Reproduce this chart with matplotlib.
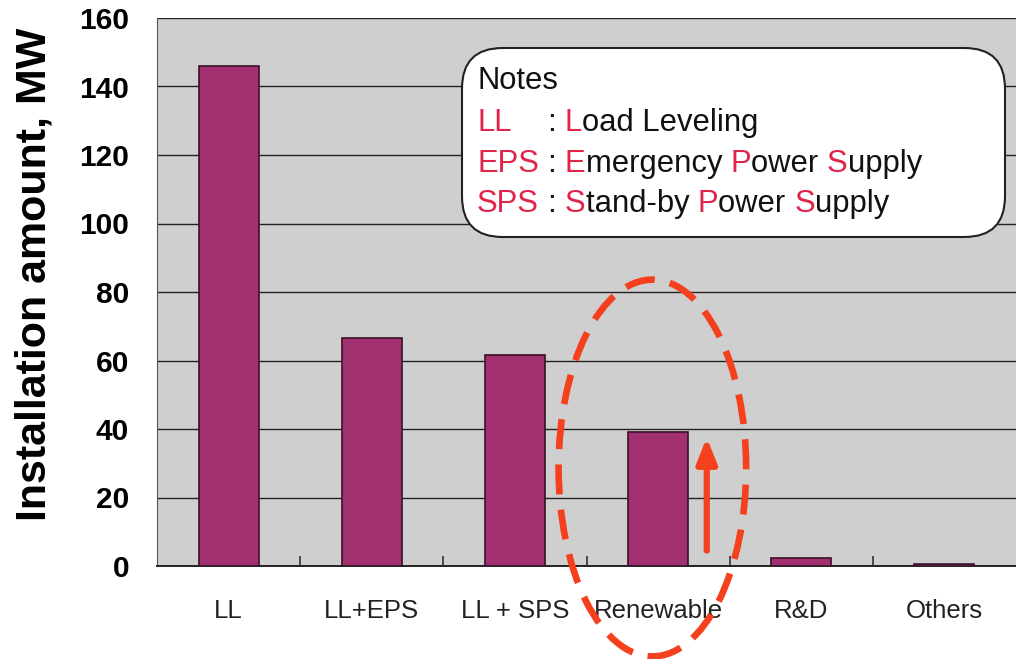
import matplotlib
matplotlib.use("Agg")
import matplotlib.pyplot as plt
from matplotlib.patches import Ellipse, FancyBboxPatch

categories = ["LL", "LL+EPS", "LL + SPS", "Renewable", "R&D", "Others"]
values = [146, 66.5, 61.5, 39, 2.2, 0.6]
yticks = [0, 20, 40, 60, 80, 100, 120, 140, 160]
ylabel = "Installation amount, MW"
notes_title = "Notes"
notes_lines = [
    [("LL", "r"), ("|", "k"), (": ", "k"), ("L", "r"), ("oad Leveling", "k")],
    [("EPS", "r"), (" ", "k"), ("|", "k"), (": ", "k"), ("E", "r"), ("mergency ", "k"), ("P", "r"), ("ower ", "k"), ("S", "r"), ("upply", "k")],
    [("SPS", "r"), (" ", "k"), ("|", "k"), (": ", "k"), ("S", "r"), ("tand-by ", "k"), ("P", "r"), ("ower ", "k"), ("S", "r"), ("upply", "k")],
]

plt.rcParams['font.family'] = ['Liberation Sans', 'DejaVu Sans']

fig = plt.figure(figsize=(10.16, 6.59), dpi=100)
ax = fig.add_axes([157/1016, 1-566/659, 1-157/1016, (566-18)/659])
ax.set_facecolor("#cfcfcf")

x = list(range(len(categories)))
ax.bar(x, values, width=0.42, color="#a0306f", edgecolor="#3a1028", linewidth=1.2, zorder=3)
ax.set_xlim(-0.5, len(categories) - 0.5)
ax.set_ylim(0, 160)
ax.set_yticks(yticks)
ax.set_yticklabels([str(v) for v in yticks], fontsize=21.5, fontweight="bold")
ax.tick_params(axis="y", length=0, pad=20)
ax.set_xticks(x)
ax.set_xticklabels(categories, fontsize=18.5, color="#222222")
ax.tick_params(axis="x", length=0, pad=24)
ax.set_xticks([i + 0.5 for i in x[:-1]], minor=True)
ax.tick_params(axis="x", which="minor", direction="in", length=7, width=1.2, color="#333333")
ax.yaxis.grid(True, color="#222222", linewidth=1.0, zorder=1)
ax.set_axisbelow(True)
for s in ["top", "right"]:
    ax.spines[s].set_visible(False)
ax.spines["left"].set_color("#555555")
ax.spines["bottom"].set_color("#222222")
ax.spines["bottom"].set_linewidth(1.4)
ax.set_ylabel(ylabel, fontsize=31, fontweight="bold")
ax.yaxis.set_label_coords(-0.119, 0.533)

# Dashed ellipse highlight
ell = Ellipse((2.96, 28.6), width=1.31, height=110, fill=False, edgecolor="#f5401e",
              linewidth=4.8, linestyle=(0, (4.5, 2.3)), clip_on=False, zorder=6)
ax.add_patch(ell)
# Arrow
ax.annotate("", xy=(3.34, 37.5), xytext=(3.34, 4.5),
            arrowprops=dict(arrowstyle="-|>,head_width=0.6,head_length=1.5", color="#f5401e",
                            linewidth=4.5, shrinkA=0, shrinkB=0), zorder=6)

# Notes box
box = FancyBboxPatch((462/1016, 1-237/659), (1005-462)/1016, (237-48)/659,
                     boxstyle="round,pad=0,rounding_size=0.04", transform=fig.transFigure,
                     facecolor="white", edgecolor="#222222", linewidth=1.5, zorder=10,
                     mutation_aspect=1016/659)
fig.add_artist(box)

red = "#e0244a"
fs = 22.3
fig.text(477/1016, 1-81/659, notes_title, fontsize=fs, va="center", ha="left", color="#111111", zorder=11)
fig.canvas.draw()
renderer = fig.canvas.get_renderer()

# compute colon alignment from the EPS line
probe = fig.text(0, 0, "EPS ", fontsize=fs)
colon_x = 477 + probe.get_window_extent(renderer=renderer).width
probe.remove()

line_y = [123, 164, 204]
for ly, parts in zip(line_y, notes_lines):
    xpix = 477
    for txt, c in parts:
        if txt == "|":
            xpix = colon_x
            continue
        t = fig.text(xpix/1016, 1-ly/659, txt, fontsize=fs, va="center", ha="left",
                     color=(red if c == "r" else "#111111"), zorder=11)
        bb = t.get_window_extent(renderer=renderer)
        xpix = bb.x1
fig.savefig("out.png", dpi=100, facecolor="white")
